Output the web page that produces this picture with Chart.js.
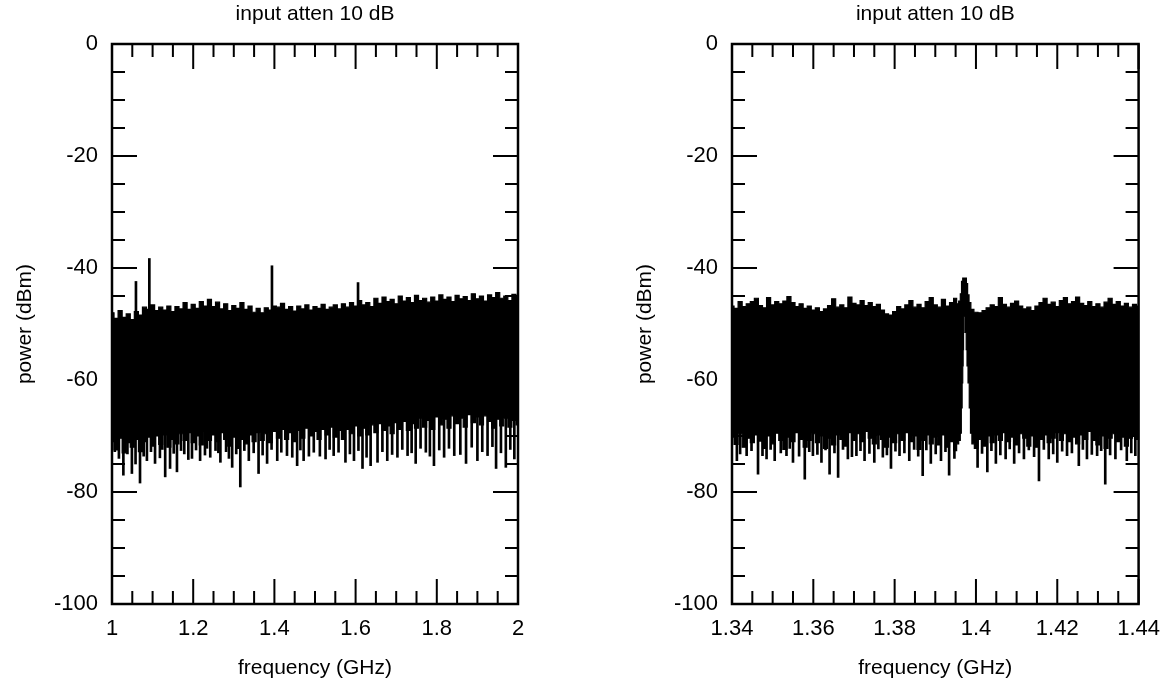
<!DOCTYPE html>
<html><head><meta charset="utf-8">
<script src="https://cdn.jsdelivr.net/npm/chart.js@4"></script>
<style>
html,body{margin:0;padding:0;background:#fff;width:1172px;height:688px;overflow:hidden}
#ca{position:absolute;left:0;top:0}
#cb{position:absolute;left:620px;top:0}
</style></head><body>
<canvas id="ca" width="620" height="688"></canvas>
<canvas id="cb" width="552" height="688"></canvas>
<script>
// ---------- panel a) 1-2 GHz ----------
const aTopF = [1.00,1.01,1.02,1.03,1.04,1.05,1.06,1.07,1.08,1.09,1.10,1.11,1.12,1.13,1.14,1.15,1.16,1.17,1.18,1.19,1.20,1.21,1.22,1.23,1.24,1.25,1.26,1.27,1.28,1.29,1.30,1.31,1.32,1.33,1.34,1.35,1.36,1.37,1.38,1.39,1.40,1.41,1.42,1.43,1.44,1.45,1.46,1.47,1.48,1.49,1.50,1.51,1.52,1.53,1.54,1.55,1.56,1.57,1.58,1.59,1.60,1.61,1.62,1.63,1.64,1.65,1.66,1.67,1.68,1.69,1.70,1.71,1.72,1.73,1.74,1.75,1.76,1.77,1.78,1.79,1.80,1.81,1.82,1.83,1.84,1.85,1.86,1.87,1.88,1.89,1.90,1.91,1.92,1.93,1.94,1.95,1.96,1.97,1.98,1.99,2.00];
const aTopP = [-48.0,-49.0,-47.6,-48.8,-48.2,-49.2,-47.8,-48.4,-47.0,-47.4,-46.6,-47.6,-47.0,-47.5,-46.8,-47.8,-46.9,-47.3,-46.2,-47.4,-46.5,-47.2,-46.0,-46.8,-45.6,-46.9,-46.1,-47.3,-46.4,-47.6,-46.7,-47.2,-46.2,-47.4,-46.8,-47.9,-47.2,-48.0,-47.1,-47.5,-46.8,-47.0,-46.3,-47.4,-46.9,-47.7,-46.8,-47.3,-46.6,-47.5,-46.9,-47.2,-46.5,-47.4,-47.0,-46.6,-47.3,-46.4,-47.0,-46.2,-46.8,-45.8,-46.6,-46.2,-46.9,-45.4,-46.3,-45.2,-46.0,-45.6,-46.4,-45.0,-45.9,-45.3,-46.2,-44.9,-45.8,-45.4,-46.1,-45.2,-45.9,-44.8,-45.6,-45.2,-46.0,-44.9,-45.5,-45.1,-45.8,-44.6,-45.5,-45.0,-45.9,-44.8,-45.3,-44.4,-45.4,-45.0,-45.8,-44.7,-45.2];
const aBotF = aTopF;
const aBotP = [-71.0,-72.5,-70.4,-73.0,-71.2,-72.0,-70.6,-72.8,-71.0,-70.2,-71.8,-70.0,-71.5,-69.8,-72.0,-70.6,-71.4,-69.6,-70.8,-69.4,-71.2,-70.0,-71.6,-69.2,-70.8,-69.8,-71.0,-69.4,-70.6,-71.8,-70.2,-72.2,-70.6,-71.4,-69.8,-71.0,-69.4,-70.8,-69.6,-71.2,-69.2,-70.4,-68.8,-70.6,-69.4,-71.0,-69.0,-70.4,-68.6,-70.0,-69.2,-70.6,-68.8,-69.8,-68.4,-70.2,-69.0,-70.6,-68.8,-69.6,-68.2,-70.0,-68.6,-69.8,-68.0,-69.4,-67.8,-69.0,-68.2,-69.6,-67.6,-68.8,-67.4,-69.0,-67.8,-68.6,-66.8,-68.4,-67.2,-68.8,-66.6,-68.0,-67.0,-68.6,-66.4,-67.8,-66.8,-68.4,-66.2,-67.6,-66.6,-68.0,-66.4,-67.4,-68.6,-67.0,-68.2,-66.8,-68.4,-67.2,-68.0];
const aDipF = [1.007,1.028,1.049,1.069,1.086,1.106,1.131,1.143,1.160,1.178,1.197,1.217,1.242,1.255,1.267,1.296,1.316,1.337,1.349,1.361,1.382,1.407,1.431,1.456,1.472,1.497,1.512,1.526,1.546,1.575,1.596,1.617,1.637,1.654,1.678,1.703,1.728,1.748,1.773,1.793,1.818,1.843,1.872,1.900,1.925,1.946,1.970,1.991];
const aDipP = [-72.8,-77.0,-76.7,-78.4,-74.4,-74.9,-77.3,-75.8,-76.4,-73.2,-74.0,-74.4,-73.8,-72.6,-74.7,-75.6,-79.1,-74.4,-73.0,-76.7,-74.9,-74.4,-73.5,-75.3,-74.4,-72.9,-73.6,-74.1,-73.5,-74.7,-74.4,-75.8,-75.3,-74.7,-74.4,-73.8,-73.5,-74.9,-72.9,-75.3,-73.8,-73.5,-74.9,-74.4,-73.5,-75.8,-75.6,-74.1];
const aShallowF = [1.017,1.038,1.058,1.078,1.096,1.118,1.124,1.152,1.170,1.188,1.207,1.229,1.234,1.262,1.281,1.288,1.306,1.326,1.371,1.393,1.417,1.444,1.464,1.485,1.536,1.558,1.586,1.607,1.627,1.666,1.690,1.715,1.738,1.760,1.783,1.806,1.830,1.858,1.886,1.912,1.937,1.958,1.981];
const aShallowP = [-74.0,-73.2,-75.0,-73.6,-72.8,-73.9,-72.4,-73.1,-72.6,-74.2,-72.5,-73.4,-72.2,-73.0,-72.8,-74.0,-73.2,-72.6,-73.4,-72.4,-72.9,-73.8,-72.5,-73.6,-72.4,-72.9,-73.2,-72.6,-73.8,-72.8,-73.3,-72.4,-73.0,-72.2,-73.6,-72.5,-72.2,-73.3,-72.0,-72.8,-71.9,-73.0,-72.4];
const aDipTop = -64;
const aSpikeF = [1.059,1.092,1.394,1.606];
const aSpikeP = [-42.4,-38.3,-39.6,-42.6];
const aSpikeBase = -48;

// ---------- panel b) 1.34-1.44 GHz ----------
const bTopF = [1.340,1.341,1.342,1.343,1.344,1.345,1.346,1.347,1.348,1.349,1.350,1.351,1.352,1.353,1.354,1.355,1.356,1.357,1.358,1.359,1.360,1.361,1.362,1.363,1.364,1.365,1.366,1.367,1.368,1.369,1.370,1.371,1.372,1.373,1.374,1.375,1.376,1.377,1.378,1.379,1.380,1.381,1.382,1.383,1.384,1.385,1.386,1.387,1.388,1.389,1.390,1.391,1.392,1.393,1.394,1.395,1.3955,1.3960,1.3963,1.3966,1.3969,1.3975,1.3978,1.3981,1.3985,1.399,1.400,1.401,1.402,1.403,1.404,1.405,1.406,1.407,1.408,1.409,1.410,1.411,1.412,1.413,1.414,1.415,1.416,1.417,1.418,1.419,1.420,1.421,1.422,1.423,1.424,1.425,1.426,1.427,1.428,1.429,1.430,1.431,1.432,1.433,1.434,1.435,1.436,1.437,1.438,1.439,1.440];
const bTopP = [-46.8,-47.2,-46.0,-46.9,-46.4,-46.0,-45.4,-46.7,-47.1,-45.3,-46.6,-46.0,-46.4,-45.9,-45.1,-46.2,-46.9,-46.4,-47.2,-46.8,-47.5,-47.1,-47.8,-47.3,-46.7,-45.5,-47.0,-46.6,-47.1,-45.2,-46.3,-46.6,-45.8,-46.7,-46.2,-46.9,-46.5,-47.5,-48.2,-48.4,-47.8,-46.9,-47.3,-46.6,-45.8,-47.0,-46.5,-47.1,-46.0,-45.3,-46.6,-47.0,-45.6,-46.8,-46.2,-45.4,-46.4,-45.9,-44.6,-42.4,-41.8,-41.8,-42.8,-44.8,-46.2,-47.4,-47.9,-48.0,-47.6,-47.1,-46.6,-46.9,-45.3,-46.5,-47.0,-46.3,-45.9,-46.8,-47.3,-47.0,-47.6,-46.8,-46.2,-45.4,-46.5,-46.1,-46.9,-45.8,-45.3,-46.4,-46.0,-45.2,-46.3,-46.7,-46.0,-46.9,-46.4,-47.0,-46.1,-45.4,-46.5,-46.0,-46.8,-46.3,-47.0,-46.5,-46.8];
const bBotF = [1.340,1.341,1.342,1.343,1.344,1.345,1.346,1.347,1.348,1.349,1.350,1.351,1.352,1.353,1.354,1.355,1.356,1.357,1.358,1.359,1.360,1.361,1.362,1.363,1.364,1.365,1.366,1.367,1.368,1.369,1.370,1.371,1.372,1.373,1.374,1.375,1.376,1.377,1.378,1.379,1.380,1.381,1.382,1.383,1.384,1.385,1.386,1.387,1.388,1.389,1.390,1.391,1.392,1.393,1.394,1.395,1.3955,1.3960,1.3963,1.3965,1.3967,1.3968,1.3969,1.3970,1.3971,1.3973,1.3975,1.3977,1.3979,1.3982,1.3985,1.3988,1.3992,1.400,1.401,1.402,1.403,1.404,1.405,1.406,1.407,1.408,1.409,1.410,1.411,1.412,1.413,1.414,1.415,1.416,1.417,1.418,1.419,1.420,1.421,1.422,1.423,1.424,1.425,1.426,1.427,1.428,1.429,1.430,1.431,1.432,1.433,1.434,1.435,1.436,1.437,1.438,1.439,1.440];
const bBotP = [-70.2,-71.5,-69.6,-72.0,-70.4,-71.2,-69.8,-70.9,-72.2,-70.0,-71.4,-69.5,-70.8,-72.4,-70.2,-71.0,-69.4,-70.6,-72.0,-70.8,-69.6,-71.2,-70.0,-72.2,-70.4,-71.6,-69.8,-70.6,-71.8,-69.4,-70.8,-69.6,-71.0,-69.2,-70.4,-71.4,-69.8,-70.6,-72.0,-70.2,-71.2,-69.6,-70.8,-69.4,-71.0,-70.0,-72.4,-70.8,-69.8,-71.4,-70.2,-71.6,-69.8,-72.0,-71.0,-72.6,-71.4,-70.8,-69.5,-65.0,-60.5,-57.5,-54.6,-51.5,-48.6,-48.4,-51.5,-54.6,-57.5,-60.5,-65.0,-69.5,-71.4,-72.2,-70.6,-71.8,-70.0,-71.2,-69.8,-70.8,-69.4,-71.0,-70.2,-71.6,-69.6,-70.4,-71.8,-70.0,-72.0,-70.6,-69.8,-71.2,-70.4,-69.4,-70.8,-69.6,-71.0,-70.2,-71.4,-69.8,-70.6,-69.2,-70.8,-71.6,-70.0,-72.2,-70.4,-69.6,-71.0,-70.2,-71.8,-70.4,-69.8,-70.6];
const bDipF = [1.3412,1.3436,1.3464,1.3485,1.3505,1.3534,1.3550,1.3579,1.3599,1.3620,1.3640,1.3661,1.3685,1.3706,1.3726,1.3750,1.3771,1.3791,1.3812,1.3836,1.3869,1.3889,1.3914,1.3934,1.3947,1.4004,1.4028,1.4049,1.4073,1.4094,1.4118,1.4155,1.4179,1.4200,1.4224,1.4253,1.4273,1.4298,1.4318,1.4343,1.4371,1.4392];
const bDipP = [-74.4,-73.5,-76.8,-74.1,-74.4,-73.5,-74.7,-77.7,-73.5,-74.7,-76.8,-77.4,-74.1,-73.5,-74.4,-74.7,-73.8,-75.8,-73.5,-74.4,-77.1,-74.9,-74.4,-77.0,-74.0,-75.6,-76.4,-74.9,-74.1,-74.9,-74.1,-78.0,-74.1,-74.7,-73.5,-75.3,-74.1,-73.5,-78.6,-74.1,-74.4,-73.5];
const bShallowF = [1.3420,1.3448,1.3475,1.3495,1.3520,1.3542,1.3565,1.3590,1.3610,1.3630,1.3652,1.3673,1.3695,1.3716,1.3738,1.3760,1.3781,1.3802,1.3824,1.3848,1.3858,1.3878,1.3901,1.3925,1.4015,1.4038,1.4060,1.4083,1.4106,1.4130,1.4143,1.4167,1.4190,1.4212,1.4236,1.4263,1.4285,1.4308,1.4330,1.4357,1.4382];
const bShallowP = [-73.2,-72.6,-73.5,-72.4,-73.0,-72.2,-73.6,-72.8,-73.3,-72.5,-73.0,-72.4,-73.7,-72.6,-73.1,-72.3,-73.4,-72.7,-73.0,-72.4,-73.6,-72.5,-73.2,-72.8,-73.1,-72.6,-73.4,-72.3,-73.0,-72.5,-73.7,-72.4,-73.2,-72.7,-73.0,-72.4,-73.3,-72.6,-73.4,-72.5,-73.0];
const bDipTop = -67;

const titleText = 'input atten 10 dB';
const xTitle = 'frequency (GHz)';
const yTitle = 'power (dBm)';
const yTicksMajor = 20;

// ---------- helpers ----------
const FAM = "'Liberation Sans', Arial, Helvetica, sans-serif";
const pts = (xs, ys) => xs.map((x, i) => ({x: x, y: ys[i]}));
const floatBars = (xs, ys, base) => xs.map((x, i) => ({x: x, y: [ys[i], base]}));

const frameTicks = {
  id: 'frameTicks',
  afterDatasetsDraw(chart) {
    const {ctx, chartArea: a} = chart;
    const xs = chart.scales.x, ys = chart.scales.y;
    ctx.save();
    ctx.strokeStyle = '#000';
    ctx.lineWidth = 2;
    ctx.beginPath();
    xs.ticks.forEach(t => {
      const p = xs.getPixelForValue(t.value);
      const L = t.label !== '' ? 25 : 13;
      ctx.moveTo(p, a.bottom); ctx.lineTo(p, a.bottom - L);
      ctx.moveTo(p, a.top); ctx.lineTo(p, a.top + L);
    });
    ys.ticks.forEach(t => {
      const p = ys.getPixelForValue(t.value);
      const L = t.label !== '' ? 25 : 13;
      ctx.moveTo(a.left, p); ctx.lineTo(a.left + L, p);
      ctx.moveTo(a.right, p); ctx.lineTo(a.right - L, p);
    });
    ctx.stroke();
    ctx.lineWidth = 2.5;
    ctx.strokeRect(a.left, a.top, a.right - a.left, a.bottom - a.top);
    ctx.restore();
  }
};

function makePanel(canvasId, cfg) {
  const bar = (xs, ys, base) => ({type: 'bar', data: floatBars(xs, ys, base),
    backgroundColor: '#000', barThickness: 2, grouped: false});
  const datasets = [
    {type: 'line', data: pts(cfg.topF, cfg.topP), borderColor: '#000', borderWidth: 1.2,
     pointRadius: 0, fill: '+1', backgroundColor: '#000', stepped: 'middle'},
    {type: 'line', data: pts(cfg.botF, cfg.botP), borderColor: '#000', borderWidth: 1.2,
     pointRadius: 0, fill: false, stepped: 'middle'},
    bar(cfg.dipF, cfg.dipP, cfg.dipTop),
    bar(cfg.shF, cfg.shP, cfg.dipTop)
  ];
  if (cfg.spikeF) datasets.push(bar(cfg.spikeF, cfg.spikeP, cfg.spikeBase));
  return new Chart(document.getElementById(canvasId), {
    type: 'line',
    data: {datasets: datasets},
    plugins: [frameTicks],
    options: {
      responsive: false,
      animation: false,
      events: [],
      layout: {padding: {left: 0, right: cfg.rightPad, top: 0, bottom: 0}},
      plugins: {
        legend: {display: false},
        tooltip: {enabled: false},
        title: {display: true, text: titleText, color: '#000', fullSize: false,
          font: {family: FAM, size: 21, weight: 'normal'}, padding: {top: 2, bottom: 16.8}}
      },
      scales: {
        x: {
          type: 'linear', min: cfg.xMin, max: cfg.xMax, offset: false,
          grid: {display: false, drawTicks: false}, border: {display: false},
          ticks: {stepSize: cfg.xStep, autoSkip: false, maxRotation: 0, minRotation: 0,
            padding: 12, color: '#000', font: {family: FAM, size: 22},
            callback: cfg.xLabel},
          title: {display: true, text: xTitle, color: '#000',
            font: {family: FAM, size: 21}, padding: {top: 0, bottom: 7}},
          afterFit: s => { s.height = 84; }
        },
        y: {
          type: 'linear', min: -100, max: 0,
          grid: {display: false, drawTicks: false}, border: {display: false},
          ticks: {stepSize: 5, autoSkip: false, padding: 14, color: '#000',
            font: {family: FAM, size: 22},
            callback: v => (Math.abs(v / yTicksMajor - Math.round(v / yTicksMajor)) < 1e-6 ? String(Math.round(v)) : '')},
          title: {display: true, text: yTitle, color: '#000',
            font: {family: FAM, size: 21}, padding: {top: 13, bottom: 0}},
          afterFit: s => { s.width = 112; }
        }
      }
    }
  });
}

makePanel('ca', {
  topF: aTopF, topP: aTopP, botF: aBotF, botP: aBotP,
  dipF: aDipF, dipP: aDipP, shF: aShallowF, shP: aShallowP, dipTop: aDipTop,
  spikeF: aSpikeF, spikeP: aSpikeP, spikeBase: aSpikeBase,
  xMin: 1, xMax: 2, xStep: 0.05, rightPad: 102,
  xLabel: v => (Math.abs(v * 5 - Math.round(v * 5)) < 1e-6 ? String(+v.toFixed(1)) : '')
});
makePanel('cb', {
  topF: bTopF, topP: bTopP, botF: bBotF, botP: bBotP,
  dipF: bDipF, dipP: bDipP, shF: bShallowF, shP: bShallowP, dipTop: bDipTop,
  xMin: 1.34, xMax: 1.44, xStep: 0.005, rightPad: 32,
  xLabel: v => (Math.abs(v * 50 - Math.round(v * 50)) < 1e-6 ? String(+v.toFixed(2)) : '')
});
</script>
</body></html>
